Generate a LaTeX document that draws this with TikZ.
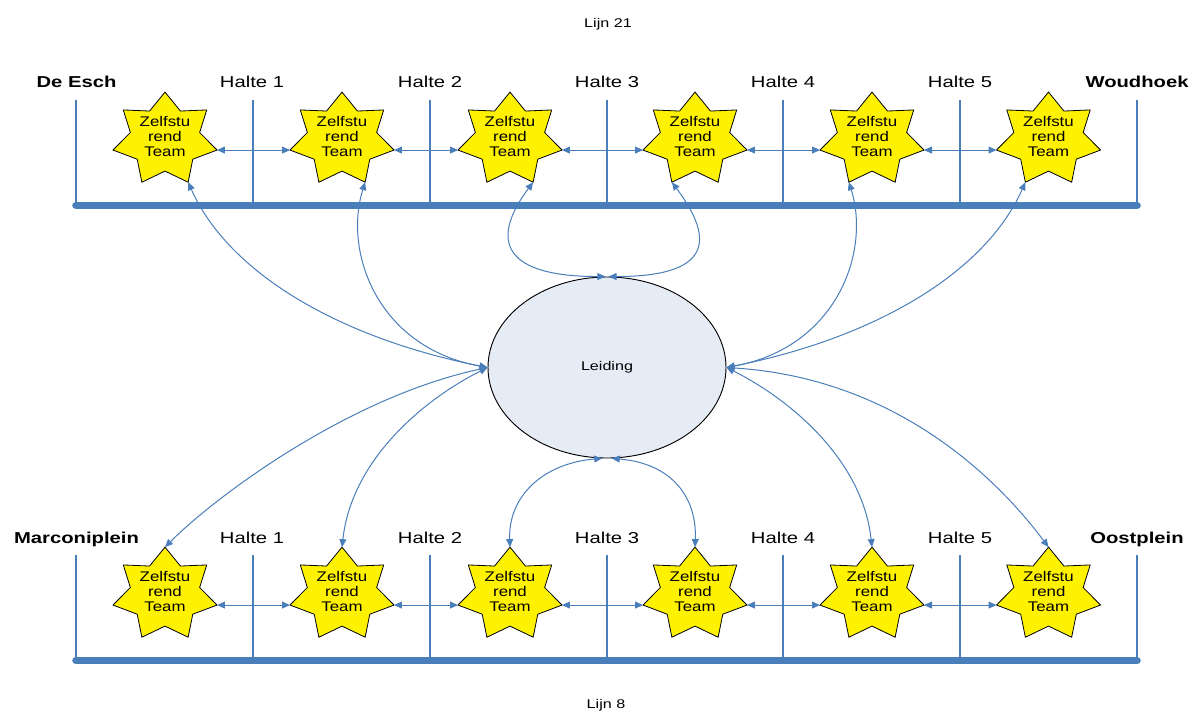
\documentclass[tikz,border=0pt]{standalone}
\usepackage{fontspec}
\setmainfont{Liberation Sans}[FakeStretch=1.28]
\newfontfamily\starfont{Liberation Sans}[FakeStretch=1.07]
\usetikzlibrary{shapes.geometric,arrows.meta}

\definecolor{lineblue}{RGB}{74,126,187}
\definecolor{leadfill}{RGB}{230,236,246}

% three centred lines inside a team star, occupying no space of their own
\newcommand\teamtext{\makebox[0pt]{\raisebox{-12.8pt}[0pt][0pt]{\vbox{\baselineskip=11.25pt
  \halign{\hfil##\hfil\cr Zelfstu\cr rend\cr Team\cr}}}}}

\begin{document}
\begin{tikzpicture}[x=0.75pt,y=-0.75pt,
  teamstar/.style={star, star points=7, star point ratio=1.5,
    minimum size=71.1pt, inner sep=0pt, outer sep=0pt,
    draw=black, line width=0.6pt, fill=yellow, xscale=1.125,
    font=\starfont\fontsize{10.5}{11.25}\selectfont},
  leadnode/.style={ellipse, draw=black, line width=0.7pt, fill=leadfill,
    minimum width=178.5pt, minimum height=135.75pt, inner sep=0pt,
    font=\fontsize{9.45}{11}\selectfont},
  stoplabel/.style={anchor=base, inner sep=0pt, font=\fontsize{11.85}{14}\selectfont},
  endlabel/.style={stoplabel, font=\fontsize{11.85}{14}\selectfont\bfseries},
  linelabel/.style={anchor=base, inner sep=0pt, font=\fontsize{9.45}{11}\selectfont},
  railbar/.style={draw=lineblue, line width=5.7pt, line cap=round},
  stoptick/.style={draw=lineblue, line width=1.1pt},
  link/.style={draw=lineblue, line width=0.75pt,
    {Triangle[length=6pt,width=5.2pt]}-{Triangle[length=6pt,width=5.2pt]}}
]
\useasboundingbox (0,0) rectangle (1198,711);

% ---- line titles
\node[linelabel] (lijn21) at (608,27) {Lijn 21};
\node[linelabel] (lijn8) at (606,708) {Lijn 8};

% ---- line 21 (top)
\foreach \x in {76,253,430,607,783,960,1137} \draw[stoptick] (\x,100) -- (\x,205);
\draw[railbar] (76,205.5) -- (1137,205.5);
\node[endlabel]  (tdeesch) at (76.5,87) {De Esch};
\node[stoplabel] (th1) at (252,87) {Halte 1};
\node[stoplabel] (th2) at (430,87) {Halte 2};
\node[stoplabel] (th3) at (607,87) {Halte 3};
\node[stoplabel] (th4) at (783,87) {Halte 4};
\node[stoplabel] (th5) at (960,87) {Halte 5};
\node[endlabel]  (twoud) at (1137,87) {Woudhoek};

% ---- line 8 (bottom)
\foreach \x in {76,253,430,607,783,960,1137} \draw[stoptick] (\x,555) -- (\x,660);
\draw[railbar] (76,660.5) -- (1137,660.5);
\node[endlabel]  (bmarc) at (76.5,543) {Marconiplein};
\node[stoplabel] (bh1) at (252,543) {Halte 1};
\node[stoplabel] (bh2) at (430,543) {Halte 2};
\node[stoplabel] (bh3) at (607,543) {Halte 3};
\node[stoplabel] (bh4) at (783,543) {Halte 4};
\node[stoplabel] (bh5) at (960,543) {Halte 5};
\node[endlabel]  (boost) at (1137,543) {Oostplein};

% ---- teams
\node[teamstar] (t1) at (165,139.5) {\teamtext};
\node[teamstar] (t2) at (342,139.5) {\teamtext};
\node[teamstar] (t3) at (510,139.5) {\teamtext};
\node[teamstar] (t4) at (695,139.5) {\teamtext};
\node[teamstar] (t5) at (872,139.5) {\teamtext};
\node[teamstar] (t6) at (1048.5,139.5) {\teamtext};
\node[teamstar] (b1) at (165,594.5) {\teamtext};
\node[teamstar] (b2) at (342,594.5) {\teamtext};
\node[teamstar] (b3) at (510,594.5) {\teamtext};
\node[teamstar] (b4) at (695,594.5) {\teamtext};
\node[teamstar] (b5) at (872,594.5) {\teamtext};
\node[teamstar] (b6) at (1048.5,594.5) {\teamtext};

% ---- management
\node[leadnode] (lead) at (607,367.5) {Leiding};

% ---- links between neighbouring teams
\foreach \a/\b in {1/2,2/3,3/4,4/5,5/6} {
  \draw[link] (t\a.outer point 6) -- (t\b.outer point 3);
  \draw[link] (b\a.outer point 6) -- (b\b.outer point 3);
}

% ---- links from management to the teams of line 21
\draw[link] (lead.west) .. controls +(-150,-30) and +(40,90) .. (t1.outer point 5);
\draw[link] (lead.west) .. controls +(-110,-20) and +(-22,70) .. (t2.outer point 5);
\draw[link] (lead.91) .. controls +(-100,0) and +(-45,60) .. (t3.outer point 5);
\draw[link] (lead.89) .. controls +(100,0) and +(45,60) .. (t4.outer point 4);
\draw[link] (lead.east) .. controls +(110,-20) and +(22,70) .. (t5.outer point 4);
\draw[link] (lead.east) .. controls +(150,-30) and +(-40,90) .. (t6.outer point 4);

% ---- links from management to the teams of line 8
\draw[link] (lead.west) .. controls +(-140,30) and +(50,-50) .. (b1.outer point 1);
\draw[link] (lead.west) .. controls +(-60,30) and +(10,-90) .. (b2.outer point 1);
\draw[link] (lead.267) .. controls +(-60,5) and +(-2,-50) .. (b3.outer point 1);
\draw[link] (lead.273) .. controls +(60,5) and +(2,-50) .. (b4.outer point 1);
\draw[link] (lead.east) .. controls +(60,30) and +(-10,-90) .. (b5.outer point 1);
\draw[link] (lead.east) .. controls +(160,10) and +(-60,-80) .. (b6.outer point 1);
\end{tikzpicture}
\end{document}
